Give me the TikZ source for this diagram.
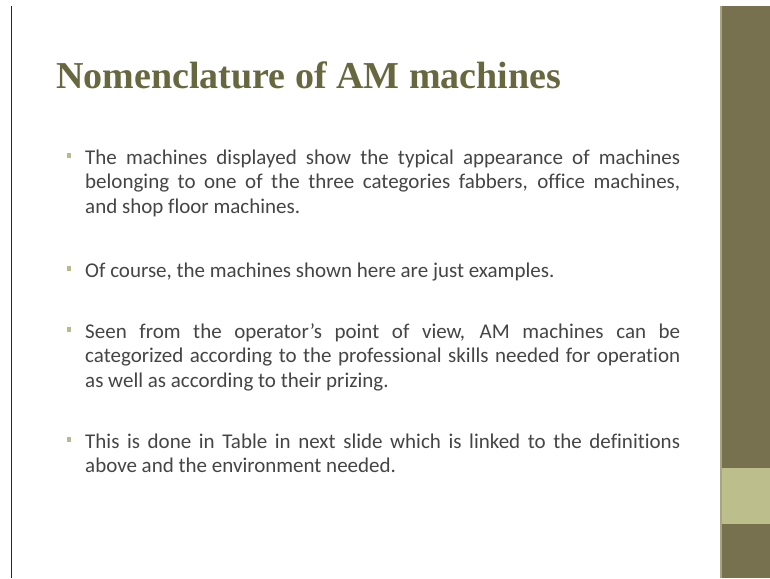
\documentclass[tikz,border=0pt]{standalone}
\usepackage{fontspec}
\setmainfont[Ligatures=CommonOff]{Carlito}
\newfontfamily\titlefont{Liberation Serif}
\definecolor{sidebar}{HTML}{77714F}
\definecolor{sideedge}{HTML}{A9A67F}
\definecolor{sidelight}{HTML}{BCBE8C}
\definecolor{titlecol}{HTML}{686840}
\definecolor{bodycol}{HTML}{454545}
\definecolor{bulletcol}{HTML}{B7BA8C}
\tikzset{
  para/.style={anchor=base west, inner sep=0pt, text=bodycol,
    font=\fontsize{21}{24.5}\selectfont},
  bulletsq/.style={fill=bulletcol},
}
\newcommand{\slidepara}[1]{\parbox[t]{595pt}{\hyphenpenalty=10000\exhyphenpenalty=10000\hfuzz=20pt #1}}
\begin{document}
\begin{tikzpicture}[x=1pt,y=-1pt]
  \useasboundingbox (0,0) rectangle (770,578);
  \fill[white] (0,0) rectangle (770,578);
  % left frame line
  \draw[line width=1.2pt, black!85] (11.5,6) -- (11.5,578);
  % right sidebar with light block
  \fill[sidebar] (720,6) rectangle (770,578);
  \fill[sideedge] (720,6) rectangle (721.5,578);
  \fill[sidelight] (721.5,468) rectangle (770,524);
  % title
  \node[anchor=base west, inner sep=0pt, text=titlecol] (title) at (56,88)
    {\resizebox{505pt}{!}{\titlefont\bfseries\fontsize{33}{33}\selectfont Nomenclature of AM machines}};
  % bullets
  \fill[bulletsq] (66.5,153) rectangle (71,157.5);
  \fill[bulletsq] (66.5,266) rectangle (71,270.5);
  \fill[bulletsq] (66.5,327) rectangle (71,331.5);
  \fill[bulletsq] (66.5,437) rectangle (71,441.5);
  % paragraphs
  \node[para] (p1) at (85,164) {\slidepara{The machines displayed show the typical appearance of machines\linebreak
    belonging to one of the three categories fabbers, office machines,\linebreak
    and shop floor machines.}};
  \node[para] (p2) at (85,277) {\slidepara{Of course, the machines shown here are just examples.}};
  \node[para] (p3) at (85,338) {\slidepara{Seen from the operator’s point of view, AM machines can be\linebreak
    categorized according to the professional skills needed for operation\linebreak
    as well as according to their prizing.}};
  \node[para] (p4) at (85,448) {\slidepara{This is done in Table in next slide which is linked to the definitions\linebreak
    above and the environment needed.}};
\end{tikzpicture}
\end{document}
